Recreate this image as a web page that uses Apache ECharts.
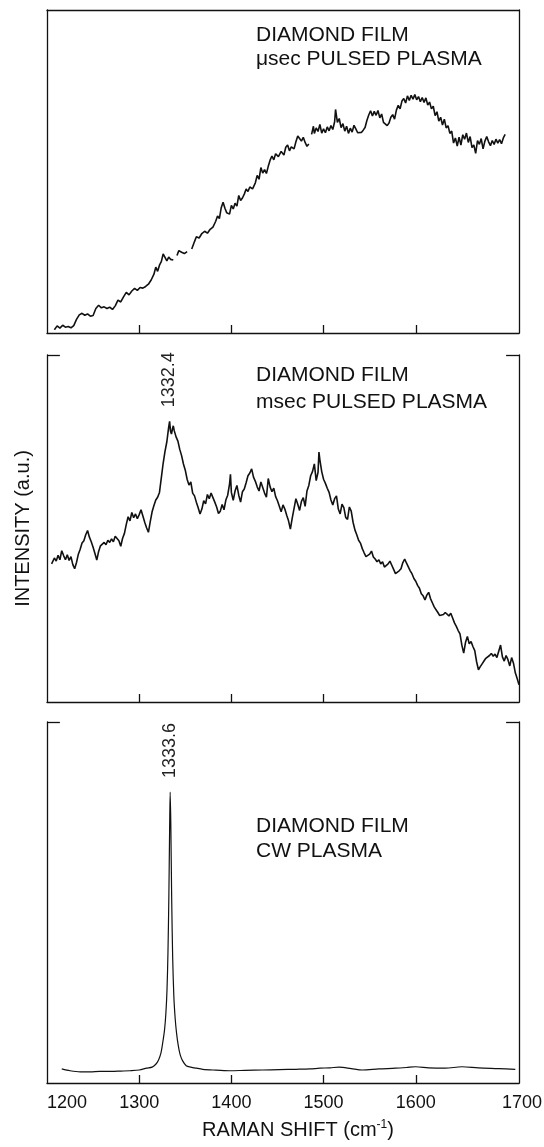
<!DOCTYPE html>
<html>
<head>
<meta charset="utf-8">
<script src="https://cdn.jsdelivr.net/npm/echarts@6/dist/echarts.min.js"></script>
<style>
html,body{margin:0;padding:0;background:#fff;}
#chart{width:544px;height:1147px;}
</style>
</head>
<body>
<div id="chart"></div>
<script>
// ---------- DATA ----------
const xTickLabels = [1200, 1300, 1400, 1500, 1600, 1700];
const xTickMarks = [1300, 1400, 1500, 1600];

// Panel 1: usec pulsed plasma (x = Raman shift, y = intensity a.u.)
const shift1 = [1208,1211,1214,1217,1220,1223,1226,1229,1232,1235,1238,1241,1244,1247,1250,1253,1256,1259,1262,1265,1268,1271,1274,1277,1280,1283,1286,1289,1292,1295,1298,1301,1304,1307,1310,1313,1316,1318,1320,1322,1324,1326,1328,1330,1332,1334,1337,1339,1341,1343,1346,1349,1352,1355,1357,1360,1362,1365,1368,1371,1374,1377,1380,1383,1385,1387,1389,1391,1393,1395,1398,1400,1402,1404,1406,1408,1410,1412,1414,1416,1418,1420,1423,1426,1428,1430,1432,1434,1436,1438,1440,1442,1444,1446,1448,1451,1454,1457,1459,1461,1463,1465,1468,1470,1472,1474,1476,1478,1480,1482,1484,1485,1487,1489,1490,1492,1494,1496,1498,1500,1502,1504,1506,1508,1510,1512,1513,1515,1517,1519,1521,1523,1525,1527,1529,1531,1533,1535,1537,1539,1541,1543,1545,1547,1549,1551,1553,1555,1557,1559,1561,1563,1565,1567,1569,1571,1573,1575,1577,1579,1581,1583,1585,1587,1589,1591,1593,1595,1597,1599,1601,1603,1605,1607,1609,1611,1613,1615,1617,1619,1621,1623,1625,1627,1629,1631,1633,1635,1637,1639,1641,1643,1645,1647,1649,1651,1653,1655,1657,1659,1661,1663,1665,1667,1669,1671,1673,1675,1677,1679,1681,1683,1685,1687,1689,1691,1693,1695,1697];
const intensity1 = [1.0,2.2,1.5,2.4,1.8,2.0,1.6,2.3,4.2,5.6,6.1,5.5,5.9,5.2,5.4,7.6,8.6,7.8,8.1,7.6,8.0,7.3,8.4,10.2,9.6,11.2,12.6,11.8,13.0,13.8,13.2,14.1,13.9,14.4,15.1,16.4,18.2,20.4,19.1,21.0,22.1,24.5,23.4,22.3,23.5,22.8,22.6,null,24.0,25.5,25.0,24.6,25.2,null,26.0,28.3,29.8,29.4,30.8,31.5,30.9,32.1,32.8,34.6,36.2,35.4,38.8,40.5,38.6,37.2,36.8,39.5,38.4,40.2,39.3,42.6,41.0,41.8,43.0,44.6,43.8,45.2,44.6,46.5,48.8,47.6,51.2,49.5,50.6,49.4,51.6,53.5,54.8,53.6,55.5,54.6,56.2,55.1,57.5,58.2,56.4,57.6,57.0,59.2,61.0,60.2,59.4,60.6,59.0,57.8,58.5,null,61.5,64.0,61.8,63.5,62.4,64.6,61.9,63.2,62.0,63.8,62.6,64.2,63.0,65.4,69.2,65.2,66.4,63.6,64.8,62.5,64.0,61.8,63.4,62.2,64.3,63.2,62.0,61.5,62.1,62.8,63.6,65.8,67.5,68.8,67.2,68.6,67.4,68.9,66.6,67.8,65.2,64.6,64.2,65.0,66.8,67.6,66.2,69.0,70.5,69.4,71.8,72.6,71.2,73.4,72.0,73.6,72.4,73.8,72.2,73.2,71.6,72.9,71.4,72.8,70.6,71.5,69.4,70.2,67.3,68.5,65.6,66.8,64.4,66.2,63.5,64.2,61.8,62.5,58.8,60.4,57.9,60.6,58.2,61.4,60.0,61.9,59.0,60.8,57.4,58.2,55.6,59.6,58.4,60.2,57.0,59.4,60.8,59.2,58.0,59.6,58.4,60.0,58.8,59.9,58.6,60.4,61.5];

// Panel 2: msec pulsed plasma
const shift2 = [1205,1208,1210,1212,1214,1216,1218,1220,1222,1224,1226,1228,1230,1232,1234,1236,1238,1240,1242,1244,1246,1248,1250,1252,1254,1256,1258,1260,1262,1264,1266,1268,1270,1272,1274,1276,1278,1280,1282,1284,1286,1288,1290,1292,1294,1296,1298,1300,1302,1304,1306,1308,1310,1312,1314,1316,1318,1320,1322,1324,1326,1328,1330,1332,1333,1334,1335,1336,1337,1338,1340,1342,1344,1346,1348,1350,1352,1354,1356,1358,1360,1362,1364,1366,1368,1370,1372,1374,1376,1378,1380,1382,1384,1386,1388,1390,1392,1394,1396,1398,1399,1400,1402,1404,1406,1408,1410,1412,1414,1416,1418,1420,1422,1424,1426,1428,1430,1432,1434,1436,1438,1440,1442,1444,1446,1448,1450,1452,1454,1456,1458,1460,1462,1464,1466,1468,1470,1472,1474,1476,1478,1480,1482,1484,1486,1488,1490,1492,1494,1495,1496,1498,1500,1502,1504,1506,1508,1510,1512,1514,1516,1518,1520,1522,1524,1526,1528,1530,1532,1534,1536,1538,1540,1542,1544,1546,1548,1550,1552,1554,1556,1558,1560,1562,1564,1566,1568,1570,1572,1574,1576,1578,1580,1582,1584,1586,1588,1590,1592,1594,1596,1598,1600,1602,1604,1606,1608,1610,1612,1614,1616,1618,1620,1622,1624,1626,1628,1630,1632,1634,1636,1638,1640,1642,1644,1646,1648,1650,1652,1654,1656,1658,1660,1662,1664,1666,1668,1670,1672,1674,1676,1678,1680,1682,1684,1686,1688,1690,1692,1694,1696,1698,1700,1702,1704,1706,1708,1710,1712];
const intensity2 = [39.8,41.5,40.6,42.3,41.0,43.6,42.2,41.0,42.4,40.8,41.9,39.6,38.4,40.2,42.6,44.0,45.8,46.5,48.2,49.4,47.5,46.2,44.6,42.8,40.9,43.4,45.0,44.6,46.0,45.3,46.6,46.0,47.0,46.2,47.8,48.3,46.5,44.9,47.2,48.6,51.2,53.4,52.2,54.6,53.1,54.2,52.8,54.0,55.4,53.6,51.8,50.2,48.9,52.0,54.8,56.6,58.2,59.0,60.4,64.6,68.8,72.2,75.0,79.2,80.9,78.0,77.2,78.6,79.6,78.2,76.4,75.2,72.8,71.0,68.6,66.8,64.2,62.5,63.4,60.2,59.4,57.6,56.0,54.2,55.6,58.0,57.1,59.8,58.6,60.2,58.9,57.6,56.2,54.3,55.0,56.9,55.4,58.2,59.6,62.8,65.6,60.4,58.1,60.8,62.4,59.6,57.6,60.6,61.4,63.2,65.2,66.0,67.2,64.8,63.6,62.0,60.8,63.4,61.8,60.2,59.0,64.4,62.0,60.6,61.6,59.2,58.0,56.4,54.8,56.8,55.6,53.8,52.2,49.8,53.0,55.8,58.6,57.0,55.2,57.8,58.9,56.4,60.8,62.4,65.2,66.4,68.6,63.8,66.2,72.0,69.8,66.4,64.2,63.0,61.6,60.4,58.2,56.8,58.6,59.4,55.6,54.2,57.0,56.0,53.2,52.6,56.2,55.0,51.8,49.6,48.2,46.6,45.8,44.2,43.0,41.9,41.4,42.6,43.5,41.8,41.2,40.4,41.0,39.8,40.4,38.9,38.6,39.8,40.6,39.4,38.2,37.0,36.6,37.8,38.4,40.2,41.2,40.0,39.6,37.8,36.9,35.6,34.8,33.6,32.8,31.2,30.6,29.4,30.8,31.6,29.8,28.6,27.4,26.6,25.8,24.9,24.6,25.2,25.8,25.4,24.8,25.6,24.2,22.8,21.8,20.6,19.6,16.4,14.1,17.2,18.9,16.8,17.4,16.0,14.8,11.6,9.3,10.2,11.0,11.8,12.6,12.2,13.4,14.0,13.2,13.8,12.8,14.6,16.4,13.0,11.8,13.4,12.2,10.4,12.8,11.2,8.4,6.8,5.0];

// Panel 3: CW plasma
const shift3 = [1216,1225,1236,1247,1257,1270,1280,1290,1300,1308,1314,1318,1321,1323.5,1325.5,1327.5,1329,1330.2,1331.2,1332.2,1333,1333.6,1334.3,1335.2,1336.3,1337.6,1339,1340.5,1342.5,1344.5,1347,1351,1356,1362,1369,1380,1398,1415,1434,1452,1470,1485,1496,1507,1517,1530,1542,1560,1578,1590,1600,1614,1632,1650,1668,1690,1708];
const intensity3 = [3.9,3.4,3.1,3.1,3.2,3.2,3.3,3.4,3.6,4.1,4.4,5.2,6.4,8.2,11.1,14.7,19.5,26,36,52,70,80.6,72,52,35,24,18,13.9,10.2,7.8,6.2,4.8,4.4,4.1,3.8,3.6,3.4,3.5,3.6,3.7,3.8,3.9,4.1,4.2,4.4,4.0,3.6,3.9,4.1,4.3,4.5,4.2,4.1,4.5,4.2,4.0,3.8];

const peak2 = [1332.4, 80.9];
const peak3 = [1333.6, 80.6];

const panelTitles = [
  'DIAMOND FILM\nμsec PULSED PLASMA',
  'DIAMOND FILM\nmsec PULSED PLASMA',
  'DIAMOND FILM\nCW PLASMA'
];

// ---------- CHART ----------
const FONT = '"Liberation Sans", Arial, Helvetica, sans-serif';
const INK = '#111';
function pairs(xs, ys){ return xs.map((x,i)=>[x, ys[i]]); }

const grids = [
  {left:47, right:25, top:10, height:323, outerBoundsMode:'none', containLabel:false},
  {left:47, right:25, top:355, height:347, outerBoundsMode:'none', containLabel:false},
  {left:47, right:25, top:722, height:361, outerBoundsMode:'none', containLabel:false}
];

const lastLabel = xTickLabels[xTickLabels.length - 1];

const xAxes = [], yAxes = [];
grids.forEach((g, i) => {
  xAxes.push({
    type:'value', gridIndex:i, min:1200, max:1712, position:'bottom',
    axisLine:{show:true, onZero:false, lineStyle:{color:INK, width:1.3}},
    axisTick:{show:true, inside:true, length:8, customValues:xTickMarks, lineStyle:{color:INK, width:1.3}},
    axisLabel:{show:i===2, customValues:xTickLabels, margin:11, fontSize:18, color:INK, fontFamily:FONT,
      formatter:(v)=> v === lastLabel ? '{r|' + v + '}' : String(v),
      rich:{r:{fontSize:18, color:INK, fontFamily:FONT, padding:[0,0,0,28]}},
      alignMinLabel:'left', alignMaxLabel:'center'},
    splitLine:{show:false},
    name: i===2 ? 'RAMAN SHIFT (cm{sup|-1})' : '',
    nameLocation:'middle', nameGap:36,
    nameTextStyle:{fontSize:20, color:INK, fontFamily:FONT, padding:[0,0,0,30],
      rich:{sup:{fontSize:12, color:INK, fontFamily:FONT, padding:[0,0,10,0]}}}
  });
  xAxes.push({
    type:'value', gridIndex:i, min:1200, max:1712, position:'top',
    axisLine:{show:i===0, onZero:false, lineStyle:{color:INK, width:1.3}},
    axisTick:{show:false}, axisLabel:{show:false}, splitLine:{show:false}
  });
  yAxes.push({
    type:'value', gridIndex:i, min:0, max:100, position:'left',
    axisLine:{show:true, onZero:false, lineStyle:{color:INK, width:1.3}},
    axisTick:{show:false}, axisLabel:{show:false}, splitLine:{show:false},
    name: i===1 ? 'INTENSITY (a.u.)' : '',
    nameLocation:'middle', nameGap:14, nameRotate:90,
    nameTextStyle:{fontSize:20, color:INK, fontFamily:FONT}
  });
  yAxes.push({
    type:'value', gridIndex:i, min:0, max:100, position:'right',
    axisLine:{show:true, onZero:false, lineStyle:{color:INK, width:1.3}},
    axisTick:{show:false}, axisLabel:{show:false}, splitLine:{show:false}
  });
});

function bracketLines(){
  return {
    silent:true, symbol:['none','none'], label:{show:false},
    lineStyle:{color:INK, width:1.3, type:'solid'},
    data:[
      [{coord:[1200,100]},{coord:[1214,100]}],
      [{coord:[1698,100]},{coord:[1712,100]}]
    ]
  };
}

function peakLabel(pt){
  return {
    silent:true, symbolSize:0,
    label:{show:true, position:'top', distance:14, rotate:90, align:'left', verticalAlign:'middle',
      fontSize:18, color:'#222', fontFamily:FONT, formatter: String(pt[0])},
    data:[{coord:pt}]
  };
}

const option = {
  animation:false,
  backgroundColor:'#fff',
  textStyle:{fontFamily:FONT},
  title: panelTitles.map((t,i)=>({
    text:t, left:256, top:[23,362,814][i], padding:0,
    textStyle:{fontSize:21, fontWeight:'normal', color:INK, fontFamily:FONT, lineHeight:[24,27,25][i]}
  })),
  grid: grids,
  xAxis: xAxes,
  yAxis: yAxes,
  series: [
    {type:'line', xAxisIndex:0, yAxisIndex:0, data:pairs(shift1,intensity1), showSymbol:false,
      connectNulls:false, lineStyle:{color:INK, width:1.6}},
    {type:'line', xAxisIndex:2, yAxisIndex:2, data:pairs(shift2,intensity2), showSymbol:false,
      lineStyle:{color:INK, width:1.6}, markPoint:peakLabel(peak2), markLine:bracketLines()},
    {type:'line', xAxisIndex:4, yAxisIndex:4, data:pairs(shift3,intensity3), showSymbol:false,
      smooth:0.3, lineStyle:{color:INK, width:1.2}, markPoint:peakLabel(peak3), markLine:bracketLines()}
  ]
};

const chart = echarts.init(document.getElementById('chart'), null, {renderer:'canvas'});
chart.setOption(option);
</script>
</body>
</html>
